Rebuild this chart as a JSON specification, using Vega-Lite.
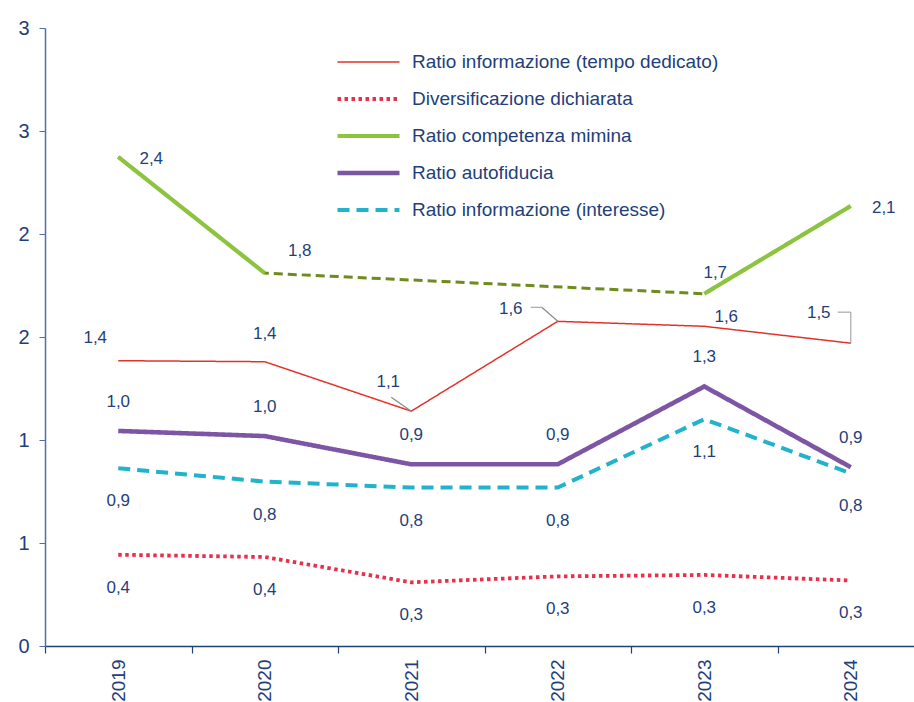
{
  "$schema": "https://vega.github.io/schema/vega-lite/v6.json",
  "width": 869,
  "height": 618,
  "autosize": {"type": "none"},
  "padding": {"left": 45, "top": 28, "right": 0, "bottom": 56},
  "background": "white",
  "config": {
    "view": {"stroke": null},
    "font": "Liberation Sans",
    "locale": {"number": {"decimal": ",", "thousands": ".", "grouping": [3], "currency": ["", " €"]}}
  },
  "data": {
    "values": [
      {"year": "2019", "series": "Ratio informazione (tempo dedicato)", "value": 1.385},
      {"year": "2020", "series": "Ratio informazione (tempo dedicato)", "value": 1.38},
      {"year": "2021", "series": "Ratio informazione (tempo dedicato)", "value": 1.14},
      {"year": "2022", "series": "Ratio informazione (tempo dedicato)", "value": 1.576},
      {"year": "2023", "series": "Ratio informazione (tempo dedicato)", "value": 1.552},
      {"year": "2024", "series": "Ratio informazione (tempo dedicato)", "value": 1.47},
      {"year": "2019", "series": "Diversificazione dichiarata", "value": 0.443},
      {"year": "2020", "series": "Diversificazione dichiarata", "value": 0.432},
      {"year": "2021", "series": "Diversificazione dichiarata", "value": 0.309},
      {"year": "2022", "series": "Diversificazione dichiarata", "value": 0.338},
      {"year": "2023", "series": "Diversificazione dichiarata", "value": 0.345},
      {"year": "2024", "series": "Diversificazione dichiarata", "value": 0.318},
      {"year": "2019", "series": "Ratio competenza mimina", "value": 2.374},
      {"year": "2020", "series": "Ratio competenza mimina", "value": 1.81},
      {"year": "2021", "series": "Ratio competenza mimina", "value": null},
      {"year": "2022", "series": "Ratio competenza mimina", "value": null},
      {"year": "2023", "series": "Ratio competenza mimina", "value": 1.71},
      {"year": "2024", "series": "Ratio competenza mimina", "value": 2.136},
      {"year": "2019", "series": "Ratio autofiducia", "value": 1.044},
      {"year": "2020", "series": "Ratio autofiducia", "value": 1.019},
      {"year": "2021", "series": "Ratio autofiducia", "value": 0.882},
      {"year": "2022", "series": "Ratio autofiducia", "value": 0.882},
      {"year": "2023", "series": "Ratio autofiducia", "value": 1.26},
      {"year": "2024", "series": "Ratio autofiducia", "value": 0.868},
      {"year": "2019", "series": "Ratio informazione (interesse)", "value": 0.863},
      {"year": "2020", "series": "Ratio informazione (interesse)", "value": 0.798},
      {"year": "2021", "series": "Ratio informazione (interesse)", "value": 0.769},
      {"year": "2022", "series": "Ratio informazione (interesse)", "value": 0.769},
      {"year": "2023", "series": "Ratio informazione (interesse)", "value": 1.101},
      {"year": "2024", "series": "Ratio informazione (interesse)", "value": 0.838}
    ]
  },
  "encoding": {
    "x": {
      "field": "year", "type": "ordinal",
      "scale": {"type": "band", "paddingInner": 0, "paddingOuter": 0, "range": [0, 879]},
      "axis": {
        "title": null, "labelAngle": -90, "labelAlign": "right", "labelBaseline": "middle",
        "labelFontSize": 19, "labelColor": "#1F3F7A",
        "labelPadding": 6, "domainColor": "#1F3F7A", "domainWidth": 1.5,
        "tickColor": "#1F3F7A", "tickSize": 7, "tickWidth": 1.2, "tickBand": "extent", "grid": false
      }
    },
    "y": {
      "field": "value", "type": "quantitative",
      "scale": {"domain": [0, 3], "nice": false},
      "axis": {
        "title": null, "values": [0, 0.5, 1, 1.5, 2, 2.5, 3],
        "labelExpr": "'' + round(datum.value)",
        "labelFontSize": 20, "labelColor": "#1F3F7A",
        "labelPadding": 10, "domainColor": "#4F6FA6", "domainWidth": 1.5,
        "tickColor": "#4F6FA6", "tickSize": 6, "grid": false
      }
    }
  },
  "layer": [
    {
      "transform": [{"filter": "datum.series === 'Ratio competenza mimina' && isValid(datum.value)"}],
      "mark": {"type": "line", "color": "#6E8B1E", "strokeDash": [9, 5], "strokeWidth": 3}
    },
    {
      "mark": {"type": "line", "invalid": "break-paths-filter-domains", "strokeCap": "butt"},
      "encoding": {
        "color": {
          "field": "series", "type": "nominal",
          "scale": {
            "domain": ["Ratio informazione (tempo dedicato)", "Diversificazione dichiarata", "Ratio competenza mimina", "Ratio autofiducia", "Ratio informazione (interesse)"],
            "range": ["#E3322B", "#E8304A", "#8CC43F", "#7D55A5", "#20B3CB"]
          },
          "legend": {
            "orient": "none", "legendX": 290, "legendY": 24, "title": null,
            "symbolType": "stroke", "symbolSize": 3844, "clipHeight": 20, "rowPadding": 17,
            "labelFontSize": 19, "labelColor": "#1F3F7A", "labelOffset": 10, "labelLimit": 600
          }
        },
        "strokeDash": {
          "field": "series", "type": "nominal",
          "scale": {
            "domain": ["Ratio informazione (tempo dedicato)", "Diversificazione dichiarata", "Ratio competenza mimina", "Ratio autofiducia", "Ratio informazione (interesse)"],
            "range": [[1, 0], [3.5, 3.5], [1, 0], [1, 0], [12, 7]]
          },
          "legend": {
            "orient": "none", "legendX": 290, "legendY": 24, "title": null,
            "symbolType": "stroke", "symbolSize": 3844, "clipHeight": 20, "rowPadding": 17,
            "labelFontSize": 19, "labelColor": "#1F3F7A", "labelOffset": 10, "labelLimit": 600
          }
        },
        "strokeWidth": {
          "field": "series", "type": "nominal",
          "scale": {
            "type": "ordinal",
            "domain": ["Ratio informazione (tempo dedicato)", "Diversificazione dichiarata", "Ratio competenza mimina", "Ratio autofiducia", "Ratio informazione (interesse)"],
            "range": [1.5, 3.8, 4.2, 4.6, 4]
          },
          "legend": {
            "orient": "none", "legendX": 290, "legendY": 24, "title": null,
            "symbolType": "stroke", "symbolSize": 3844, "clipHeight": 20, "rowPadding": 17,
            "labelFontSize": 19, "labelColor": "#1F3F7A", "labelOffset": 10, "labelLimit": 600
          }
        }
      }
    },
    {
      "transform": [{"filter": "datum.series === 'Ratio informazione (tempo dedicato)' && datum.year === '2021'"}],
      "mark": {"type": "rule", "color": "#8C8C8C", "strokeWidth": 1.3, "xOffset": -20, "yOffset": -14},
      "encoding": {
        "x": {"field": "year", "type": "ordinal", "bandPosition": 0.5},
        "x2": {"field": "year", "bandPosition": 0.5},
        "y2": {"field": "value"}
      }
    },
    {
      "transform": [{"filter": "datum.series === 'Ratio informazione (tempo dedicato)' && datum.year === '2022'"}],
      "mark": {"type": "rule", "color": "#8C8C8C", "strokeWidth": 1.3, "xOffset": -16, "yOffset": -14},
      "encoding": {
        "x": {"field": "year", "type": "ordinal", "bandPosition": 0.5},
        "x2": {"field": "year", "bandPosition": 0.5},
        "y2": {"field": "value"}
      }
    },
    {
      "transform": [{"filter": "datum.series === 'Ratio informazione (tempo dedicato)' && datum.year === '2022'"}],
      "mark": {"type": "tick", "orient": "horizontal", "size": 11, "thickness": 1.3, "color": "#8C8C8C", "xOffset": -21.5, "yOffset": -14}
    },
    {
      "transform": [{"filter": "datum.series === 'Ratio informazione (tempo dedicato)' && datum.year === '2024'"}],
      "mark": {"type": "tick", "orient": "horizontal", "size": 13, "thickness": 1.3, "color": "#8C8C8C", "xOffset": -6.5, "yOffset": -31}
    },
    {
      "transform": [{"filter": "datum.series === 'Ratio informazione (tempo dedicato)' && datum.year === '2024'"}],
      "mark": {"type": "tick", "orient": "vertical", "size": 31, "thickness": 1.3, "color": "#8C8C8C", "yOffset": -15.5}
    },
    {
      "transform": [{"filter": "datum.series === 'Ratio autofiducia'"}],
      "mark": {"type": "text", "fontSize": 17, "color": "#1F3F7A", "baseline": "middle", "align": "center", "dy": -29},
      "encoding": {"text": {"field": "value", "type": "quantitative", "format": ".1f"}}
    },
    {
      "transform": [{"filter": "datum.series === 'Ratio informazione (interesse)' || datum.series === 'Diversificazione dichiarata'"}],
      "mark": {"type": "text", "fontSize": 17, "color": "#1F3F7A", "baseline": "middle", "align": "center", "dy": 33},
      "encoding": {"text": {"field": "value", "type": "quantitative", "format": ".1f"}}
    },
    {
      "transform": [{"filter": "datum.series === 'Ratio competenza mimina' && (datum.year === '2019' || datum.year === '2024')"}],
      "mark": {"type": "text", "fontSize": 17, "color": "#1F3F7A", "baseline": "middle", "align": "center", "dx": 33, "dy": 2},
      "encoding": {"text": {"field": "value", "type": "quantitative", "format": ".1f"}}
    },
    {
      "transform": [{"filter": "datum.series === 'Ratio competenza mimina' && datum.year === '2020'"}],
      "mark": {"type": "text", "fontSize": 17, "color": "#1F3F7A", "baseline": "middle", "align": "center", "dx": 35, "dy": -22},
      "encoding": {"text": {"field": "value", "type": "quantitative", "format": ".1f"}}
    },
    {
      "transform": [{"filter": "datum.series === 'Ratio competenza mimina' && datum.year === '2023'"}],
      "mark": {"type": "text", "fontSize": 17, "color": "#1F3F7A", "baseline": "middle", "align": "center", "dx": 11, "dy": -21},
      "encoding": {"text": {"field": "value", "type": "quantitative", "format": ".1f"}}
    },
    {
      "transform": [{"filter": "datum.series === 'Ratio informazione (tempo dedicato)' && datum.year === '2019'"}],
      "mark": {"type": "text", "fontSize": 17, "color": "#1F3F7A", "baseline": "middle", "align": "center", "dx": -23, "dy": -23},
      "encoding": {"text": {"field": "value", "type": "quantitative", "format": ".1f"}}
    },
    {
      "transform": [{"filter": "datum.series === 'Ratio informazione (tempo dedicato)' && datum.year === '2020'"}],
      "mark": {"type": "text", "fontSize": 17, "color": "#1F3F7A", "baseline": "middle", "align": "center", "dx": 0, "dy": -28},
      "encoding": {"text": {"field": "value", "type": "quantitative", "format": ".1f"}}
    },
    {
      "transform": [{"filter": "datum.series === 'Ratio informazione (tempo dedicato)' && datum.year === '2021'"}],
      "mark": {"type": "text", "fontSize": 17, "color": "#1F3F7A", "baseline": "middle", "align": "center", "dx": -23, "dy": -29},
      "encoding": {"text": {"field": "value", "type": "quantitative", "format": ".1f"}}
    },
    {
      "transform": [{"filter": "datum.series === 'Ratio informazione (tempo dedicato)' && datum.year === '2022'"}],
      "mark": {"type": "text", "fontSize": 17, "color": "#1F3F7A", "baseline": "middle", "align": "center", "dx": -47, "dy": -12},
      "encoding": {"text": {"field": "value", "type": "quantitative", "format": ".1f"}}
    },
    {
      "transform": [{"filter": "datum.series === 'Ratio informazione (tempo dedicato)' && datum.year === '2023'"}],
      "mark": {"type": "text", "fontSize": 17, "color": "#1F3F7A", "baseline": "middle", "align": "center", "dx": 22, "dy": -9},
      "encoding": {"text": {"field": "value", "type": "quantitative", "format": ".1f"}}
    },
    {
      "transform": [{"filter": "datum.series === 'Ratio informazione (tempo dedicato)' && datum.year === '2024'"}],
      "mark": {"type": "text", "fontSize": 17, "color": "#1F3F7A", "baseline": "middle", "align": "center", "dx": -32, "dy": -30},
      "encoding": {"text": {"field": "value", "type": "quantitative", "format": ".1f"}}
    }
  ]
}
